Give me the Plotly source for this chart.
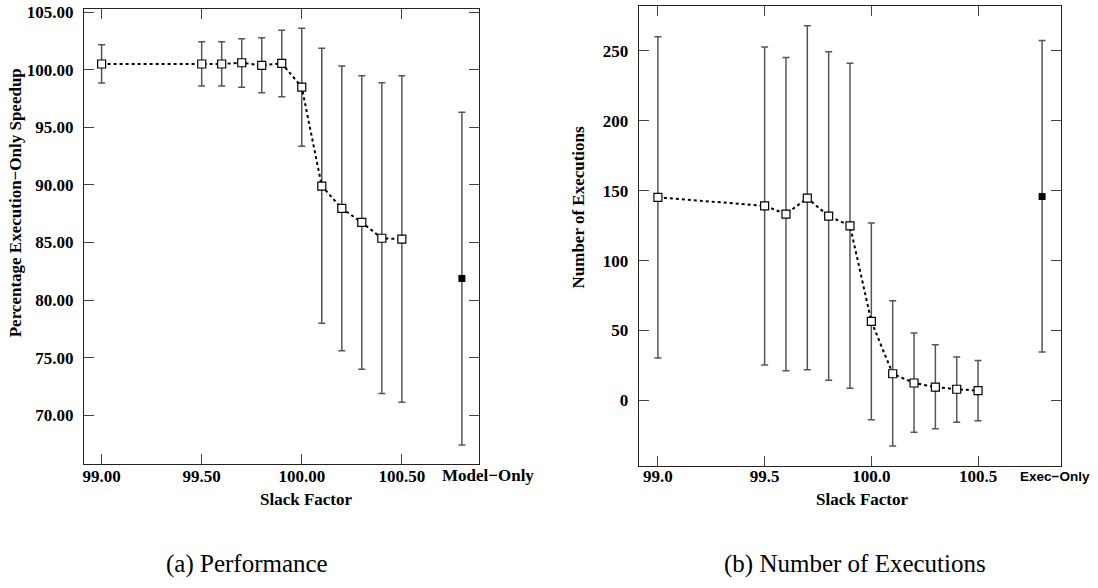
import plotly.graph_objects as go

# ---------------- data ----------------
slack = [99.0, 99.5, 99.6, 99.7, 99.8, 99.9, 100.0, 100.1, 100.2, 100.3, 100.4, 100.5]

speedup_mean = [100.50, 100.50, 100.50, 100.61, 100.38, 100.56, 98.49, 89.90, 87.96, 86.74, 85.37, 85.29]
speedup_hi = [102.18, 102.44, 102.44, 102.70, 102.79, 103.43, 103.60, 101.86, 100.32, 99.48, 98.87, 99.48]
speedup_lo = [98.84, 98.58, 98.58, 98.49, 98.00, 97.65, 93.36, 77.98, 75.60, 74.00, 71.88, 71.13]

model_only_x = [100.8]
model_only_mean = [81.87]
model_only_hi = [96.32]
model_only_lo = [67.42]

exec_mean = [145.2, 139.2, 133.3, 144.7, 131.8, 124.9, 56.5, 19.0, 12.4, 9.5, 7.9, 6.9]
exec_hi = [260.1, 252.9, 245.3, 268.0, 249.4, 241.3, 126.8, 71.2, 48.1, 39.8, 31.0, 28.4]
exec_lo = [30.3, 25.3, 21.2, 21.9, 14.3, 8.6, -13.9, -32.7, -22.9, -20.3, -15.7, -14.6]

exec_only_x = [100.8]
exec_only_mean = [145.9]
exec_only_hi = [257.5]
exec_only_lo = [34.5]

left_yticks = [70, 75, 80, 85, 90, 95, 100, 105]
left_xticks = [99.0, 99.5, 100.0, 100.5]
right_yticks = [0, 50, 100, 150, 200, 250]
right_xticks = [99.0, 99.5, 100.0, 100.5]

# ---------------- figure ----------------
W, H = 1098, 588
fig = go.Figure()

SERIF = "Liberation Serif"
ERRC = "#555555"


def err(mean, hi, lo):
    return ([h - m for h, m in zip(hi, mean)], [m - l for m, l in zip(mean, lo)])


def add_series(xa, ya, x, mean, hi, lo, ox, om, ohi, olo):
    up, dn = err(mean, hi, lo)
    fig.add_trace(go.Scatter(
        x=x, y=mean, xaxis=xa, yaxis=ya, mode="lines+markers",
        line=dict(color="black", width=2, dash="dot"),
        marker=dict(symbol="square", size=8, color="white",
                    line=dict(color="black", width=1.2)),
        error_y=dict(type="data", array=up, arrayminus=dn, color=ERRC,
                     thickness=1.5, width=3.5),
        showlegend=False))
    oup, odn = err(om, ohi, olo)
    fig.add_trace(go.Scatter(
        x=ox, y=om, xaxis=xa, yaxis=ya, mode="markers",
        marker=dict(symbol="square", size=7, color="black",
                    line=dict(color="black", width=0)),
        error_y=dict(type="data", array=oup, arrayminus=odn, color=ERRC,
                     thickness=1.5, width=3.5),
        showlegend=False))


add_series("x", "y", slack, speedup_mean, speedup_hi, speedup_lo,
           model_only_x, model_only_mean, model_only_hi, model_only_lo)
add_series("x2", "y2", slack, exec_mean, exec_hi, exec_lo,
           exec_only_x, exec_only_mean, exec_only_hi, exec_only_lo)

tickfont = dict(family=SERIF, size=17, color="black", weight="bold")
axis_common = dict(showgrid=False, zeroline=False, showline=True, linecolor="#222",
                   linewidth=1.2, mirror="ticks", ticks="inside", ticklen=10,
                   tickwidth=1.2, tickcolor="#444", tickfont=tickfont,
                   automargin=False)

fig.update_layout(
    template="none",
    width=W, height=H,
    margin=dict(l=0, r=0, t=0, b=0, pad=0),
    paper_bgcolor="white", plot_bgcolor="white",
    showlegend=False,
    xaxis=dict(domain=[84 / W, 478.7 / W], anchor="y", range=[98.912, 100.884],
               tickvals=left_xticks, ticktext=[f"{v:.2f}" for v in left_xticks],
               ticklabelstandoff=-4, **axis_common),
    yaxis=dict(domain=[1 - 464.3 / H, 1 - 9.3 / H], anchor="x", range=[65.74, 105.25],
               tickvals=left_yticks, ticktext=[f"{v:.2f}" for v in left_yticks],
               ticklabelstandoff=6, **axis_common),
    xaxis2=dict(domain=[638.7 / W, 1061.3 / W], anchor="y2", range=[98.910, 100.890],
                tickvals=right_xticks, ticktext=[f"{v:.1f}" for v in right_xticks],
                ticklabelstandoff=-5, **axis_common),
    yaxis2=dict(domain=[1 - 465.7 / H, 1 - 5.7 / H], anchor="x2", range=[-46.8, 282.4],
                tickvals=right_yticks, ticktext=[str(v) for v in right_yticks],
                ticklabelstandoff=6, **axis_common),
)

bold_serif = dict(family=SERIF, size=17, color="black", weight="bold")
ann = [
    dict(text="Percentage Execution\u2212Only Speedup", x=15.8 / W, y=1 - 202.5 / H,
         textangle=-90, font=bold_serif),
    dict(text="Slack Factor", x=306 / W, y=1 - 500 / H, font=bold_serif),
    dict(text="Model\u2212Only", x=488 / W, y=1 - 475 / H, font=bold_serif),
    dict(text="Number of Executions", x=578 / W, y=1 - 207.5 / H,
         textangle=-90, font=bold_serif),
    dict(text="Slack Factor", x=862.8 / W, y=1 - 500 / H, font=bold_serif),
    dict(text="Exec\u2212Only", x=1055 / W, y=1 - 476.7 / H,
         font=dict(family="Liberation Sans", size=13.5, color="black", weight="bold")),
    dict(text="(a) Performance", x=247 / W, y=1 - 564 / H,
         font=dict(family=SERIF, size=25, color="black")),
    dict(text="(b) Number of Executions", x=855 / W, y=1 - 564 / H,
         font=dict(family=SERIF, size=25, color="black")),
]
for a in ann:
    fig.add_annotation(xref="paper", yref="paper", showarrow=False,
                       xanchor="center", yanchor="middle", **a)

fig.write_html(
    "out.html",
    config={"displayModeBar": False},
    post_script="document.body.style.margin='0px';document.body.style.overflow='hidden';",
)
